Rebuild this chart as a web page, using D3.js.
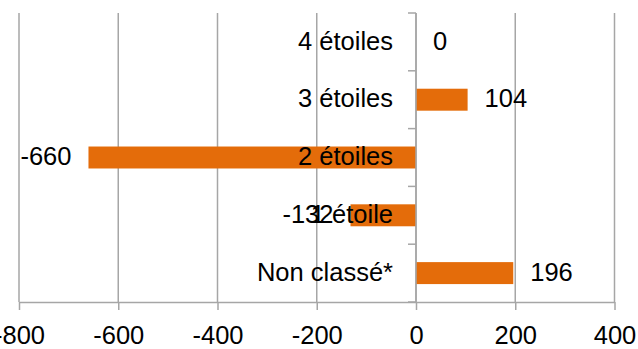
<!DOCTYPE html>
<html>
<head>
<meta charset="utf-8">
<script src="https://cdn.jsdelivr.net/npm/d3@7"></script>
<style>
  html, body { margin: 0; padding: 0; background: #fff; }
  svg { display: block; }
  text { font-family: "Liberation Sans", Arial, sans-serif; fill: #000; }
</style>
</head>
<body>
<svg id="chart" width="638" height="349"></svg>
<script>
// Hotel classes and their change in number
const categories = ["4 étoiles", "3 étoiles", "2 étoiles", "1 étoile", "Non classé*"];
const values = [0, 104, -660, -132, 196];
const xTicks = [-800, -600, -400, -200, 0, 200, 400];

const width = 638, height = 349;
const plot = { left: 19, right: 614.5, top: 13, bottom: 302 };
const fontSize = 25.5;
const gridColor = "#a6a6a6";
const barColor = "#E46C0A";

const svg = d3.select("#chart");

const x = d3.scaleLinear().domain([-800, 400]).range([plot.left, plot.right]);
const y = d3.scaleBand().domain(categories).range([plot.top, plot.bottom]).paddingInner(0.62).paddingOuter(0.31);
const band = d3.scaleBand().domain(categories).range([plot.top, plot.bottom]);

// vertical gridlines
svg.append("g")
  .selectAll("line")
  .data(xTicks)
  .join("line")
  .attr("x1", d => x(d)).attr("x2", d => x(d))
  .attr("y1", plot.top).attr("y2", plot.bottom)
  .attr("stroke", gridColor).attr("stroke-width", 1.5);

// bottom axis
const xAxis = svg.append("g")
  .attr("transform", `translate(0,${plot.bottom})`)
  .call(d3.axisBottom(x).tickValues(xTicks).tickSize(8).tickSizeOuter(0).tickFormat(d3.format("d")));
xAxis.select(".domain").attr("stroke", gridColor).attr("stroke-width", 1.5);
xAxis.selectAll(".tick line").attr("stroke", gridColor).attr("stroke-width", 1.5);
xAxis.selectAll(".tick text")
  .attr("font-size", fontSize)
  .attr("font-family", "Liberation Sans, Arial, sans-serif")
  .attr("fill", "#000")
  .attr("dy", null)
  .attr("y", 42)
  .text(d => d < 0 ? "-" + Math.abs(d) : String(d));

// bars
svg.append("g")
  .selectAll("rect")
  .data(values)
  .join("rect")
  .attr("x", d => x(Math.min(0, d)))
  .attr("width", d => Math.abs(x(d) - x(0)))
  .attr("y", (d, i) => y(categories[i]))
  .attr("height", y.bandwidth())
  .attr("fill", barColor);

// vertical axis at zero with category boundary ticks on the left
const boundaries = categories.map(c => band(c)).concat([plot.bottom]);
const yAxis = svg.append("g");
yAxis.append("line")
  .attr("x1", x(0)).attr("x2", x(0))
  .attr("y1", plot.top).attr("y2", plot.bottom)
  .attr("stroke", gridColor).attr("stroke-width", 1.5);
yAxis.selectAll("line.bt")
  .data(boundaries)
  .join("line")
  .attr("class", "bt")
  .attr("x1", x(0) - 8).attr("x2", x(0))
  .attr("y1", d => d).attr("y2", d => d)
  .attr("stroke", gridColor).attr("stroke-width", 1.5);

// category labels, right-aligned just left of zero
svg.append("g")
  .selectAll("text")
  .data(categories)
  .join("text")
  .attr("x", x(0) - 23)
  .attr("y", d => band(d) + band.bandwidth() / 2 + 1)
  .attr("text-anchor", "end")
  .attr("dominant-baseline", "middle")
  .attr("font-size", fontSize)
  .text(d => d);

// value labels beyond bar ends
svg.append("g")
  .selectAll("text")
  .data(values)
  .join("text")
  .attr("x", d => d < 0 ? x(d) - 17 : x(d) + 17)
  .attr("y", (d, i) => band(categories[i]) + band.bandwidth() / 2 + 1)
  .attr("text-anchor", d => d < 0 ? "end" : "start")
  .attr("dominant-baseline", "middle")
  .attr("font-size", fontSize)
  .text(d => String(d));
</script>
</body>
</html>
